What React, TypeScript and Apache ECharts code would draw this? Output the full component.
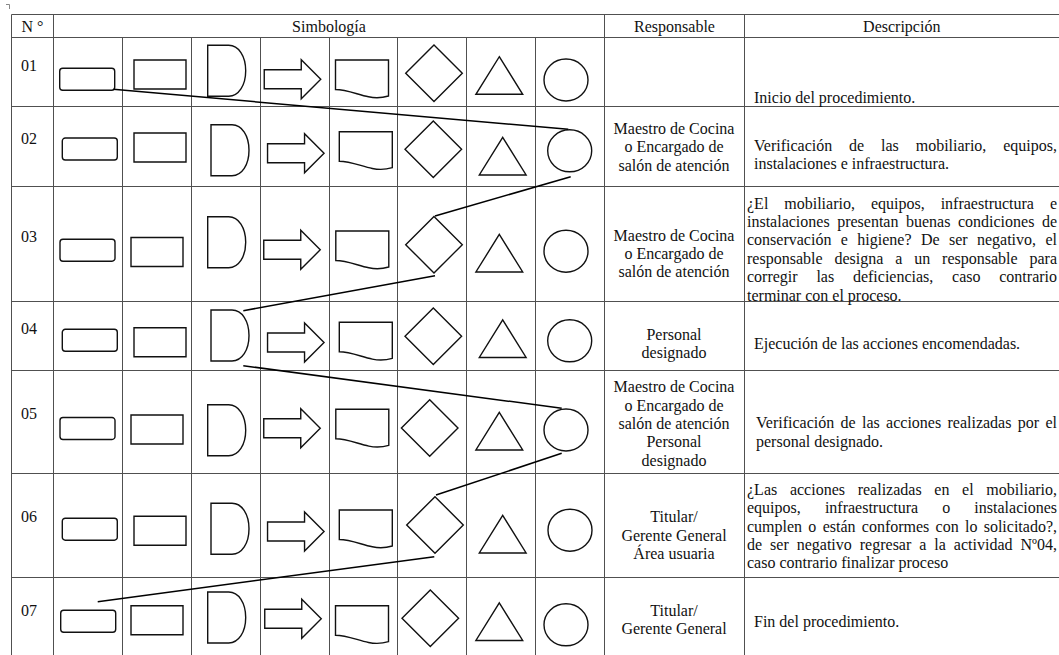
import React, { useEffect, useRef } from "react";
import * as echarts from "echarts";

// ---------- data ----------
const HEADERS = ["N °", "Simbología", "Responsable", "Descripción"];
const STEP_NUMBERS = ["01", "02", "03", "04", "05", "06", "07"];
const SYMBOLS = ["terminal", "process", "delay", "transport", "document", "decision", "inspection", "connector"];
const RESPONSABLES: string[][] = [
  [],
  ["Maestro de Cocina", "o Encargado de", "salón de atención"],
  ["Maestro de Cocina", "o Encargado de", "salón de atención"],
  ["Personal", "designado"],
  ["Maestro de Cocina", "o Encargado de", "salón de atención", "Personal", "designado"],
  ["Titular/", "Gerente General", "Área usuaria"],
  ["Titular/", "Gerente General"],
];
const DESCRIPTIONS: string[][] = [
  ["Inicio del procedimiento."],
  ["Verificación de las mobiliario, equipos,", "instalaciones e infraestructura."],
  [
    "¿El mobiliario, equipos, infraestructura e",
    "instalaciones presentan buenas condiciones de",
    "conservación e higiene? De ser negativo, el",
    "responsable designa a un responsable para",
    "corregir las deficiencias, caso contrario",
    "terminar con el proceso.",
  ],
  ["Ejecución de las acciones encomendadas."],
  ["Verificación de las acciones realizadas por el", "personal designado."],
  [
    "¿Las acciones realizadas en el mobiliario,",
    "equipos, infraestructura o instalaciones",
    "cumplen o están conformes con lo solicitado?,",
    "de ser negativo regresar a la actividad Nº04,",
    "caso contrario finalizar proceso",
  ],
  ["Fin del procedimiento."],
];
// symbol index used at each step of the flow
const FLOW_SYMBOLS = [0, 7, 5, 2, 7, 5, 0];

// ---------- layout ----------
const FONT_FAMILY = "Liberation Serif";
const FONT_SIZE = 16;
const LINE_H = 18.4;
const COL_X = [11.5, 53.5, 122.5, 191.5, 260.5, 329.5, 397.5, 466.5, 535.5, 604.5, 744.5];
const TABLE_RIGHT = 1059;
const ROW_Y = [14.5, 37.5, 106.5, 186.5, 301.5, 370.5, 473.5, 577.5, 700];
const NUM_X = 21;
const NUM_Y = [65.7, 138, 236, 328.3, 413.3, 516.7, 610];
const RESP_X = 674;
const RESP_Y = [0, 128.5, 235, 334.5, 386.7, 516.7, 610];
const DESC_X = [754, 754, 747, 754, 756, 747, 754];
const DESC_RIGHT = 1057;
const DESC_Y = [97, 145, 203, 343, 422.7, 489.3, 621];
// symbol centres per row (drawn by hand in the source document)
const SHAPE_CENTERS: number[][][] = [
  [[87.2, 79.2], [160, 74.5], [226.7, 70.8], [292.5, 79.2], [362, 78], [434, 73.3], [499.3, 75.5], [566, 80]],
  [[89.8, 149], [160, 147.5], [230, 150.3], [295.8, 153.3], [365.8, 149.7], [433.3, 149.3], [502.7, 156.2], [569.7, 150.8]],
  [[87.5, 250.2], [157, 252], [226.7, 242.2], [292, 249.8], [362.3, 249], [434, 244.7], [499.3, 253.2], [566, 251.2]],
  [[89.8, 340.3], [160, 342.2], [230, 335.5], [295.8, 342.5], [365.8, 340.3], [433.3, 336.3], [502.7, 338.7], [569.7, 340.8]],
  [[87.5, 428.5], [157, 429.5], [226.7, 430.3], [292, 428.3], [362.3, 427.3], [429.7, 428], [499.3, 431.2], [566, 430]],
  [[89.8, 529.2], [160, 530.8], [230, 528.8], [295.8, 531.5], [365.8, 528], [435, 525], [502.7, 534.2], [570, 530.2]],
  [[88.2, 621.2], [157, 620.3], [226.7, 617.5], [293, 618.8], [362, 623.7], [430.3, 618.3], [499.3, 621.7], [566, 624.8]],
];
// connector anchors relative to symbol centres: [startDx, startDy, endDx, endDy]
const CONNECTOR_ANCHORS = [
  [26.1, 10.1, -1.4, -21.5],
  [1, 25.9, 1, -28.7],
  [1, 31, 13.3, -24.8],
  [13.3, 30.2, -4.3, -21.7],
  [-4.3, 23.3, 1, -30],
  [-0.7, 31.7, 9.5, -19.5],
];

echarts.graphic.registerShape(
  "fcDelay",
  echarts.graphic.extendPath("M0 0 L21 0 C31 0 38 11 38 25.5 C38 40 31 51 21 51 L0 51 Z", {})
);
echarts.graphic.registerShape(
  "fcArrow",
  echarts.graphic.extendPath("M0 10 L37 10 L37 0 L56.5 19.5 L37 39 L37 29 L0 29 Z", {})
);
echarts.graphic.registerShape(
  "fcDoc",
  echarts.graphic.extendPath("M0 0 L53 0 L53 36 C47 37.8 40 38.3 33 36.8 C22 34.5 11 29.5 0 29.5 Z", {})
);

const SHAPE_STYLE = { fill: "#fff", stroke: "#111", lineWidth: 1.4 };
const GRID_COLOR = "#505050";
const FONT = `${FONT_SIZE}px ${FONT_FAMILY}`;

function textEl(text: string, x: number, y: number, align: string) {
  return {
    type: "text",
    x,
    y,
    silent: true,
    style: {
      text,
      fontSize: FONT_SIZE,
      fontFamily: FONT_FAMILY,
      fill: "#111",
      align,
      textAlign: align,
      verticalAlign: "middle",
      textVerticalAlign: "middle",
    },
  };
}

function symbolEl(kind: number, cx: number, cy: number) {
  switch (SYMBOLS[kind]) {
    case "terminal":
      return { type: "rect", shape: { x: cx - 27.5, y: cy - 11, width: 55, height: 22, r: 3 }, style: SHAPE_STYLE };
    case "process":
      return { type: "rect", shape: { x: cx - 26, y: cy - 14.5, width: 52, height: 29 }, style: SHAPE_STYLE };
    case "delay":
      return { type: "fcDelay", x: cx - 19, y: cy - 25.5, style: SHAPE_STYLE };
    case "transport":
      return { type: "fcArrow", x: cx - 28.25, y: cy - 19.5, style: SHAPE_STYLE };
    case "document":
      return { type: "fcDoc", x: cx - 26.5, y: cy - 18, style: SHAPE_STYLE };
    case "decision":
      return {
        type: "polygon",
        shape: { points: [[cx, cy - 28.3], [cx + 28.3, cy], [cx, cy + 28.3], [cx - 28.3, cy]] },
        style: SHAPE_STYLE,
      };
    case "inspection":
      return {
        type: "polygon",
        shape: { points: [[cx, cy - 18.8], [cx + 23.4, cy + 18.8], [cx - 23.4, cy + 18.8]] },
        style: SHAPE_STYLE,
      };
    default:
      return { type: "ellipse", shape: { cx, cy, rx: 22, ry: 21 }, style: SHAPE_STYLE };
  }
}

function buildElements() {
  const els: any[] = [];
  const ctx = document.createElement("canvas").getContext("2d")!;
  ctx.font = FONT;
  const line = (x1: number, y1: number, x2: number, y2: number, color = GRID_COLOR, w = 1) =>
    els.push({ type: "line", silent: true, shape: { x1, y1, x2, y2 }, style: { stroke: color, lineWidth: w } });

  // corner mark
  els.push({ type: "polyline", shape: { points: [[6, 4.5], [9.5, 4.5], [9.5, 9]] }, style: { stroke: "#888", lineWidth: 1 } });

  // horizontal grid lines
  ROW_Y.slice(0, -1).forEach((y) => line(COL_X[0], y, TABLE_RIGHT, y));
  const bottom = ROW_Y[ROW_Y.length - 1];
  // vertical lines
  [0, 1, 9, 10].forEach((i) => line(COL_X[i], ROW_Y[0], COL_X[i], bottom));
  for (let i = 2; i <= 8; i++) line(COL_X[i], ROW_Y[1], COL_X[i], bottom);

  // headers
  const hy = (ROW_Y[0] + ROW_Y[1]) / 2;
  els.push(textEl(HEADERS[0], (COL_X[0] + COL_X[1]) / 2, hy, "center"));
  els.push(textEl(HEADERS[1], (COL_X[1] + COL_X[9]) / 2, hy, "center"));
  els.push(textEl(HEADERS[2], (COL_X[9] + COL_X[10]) / 2, hy, "center"));
  els.push(textEl(HEADERS[3], (COL_X[10] + TABLE_RIGHT) / 2, hy, "center"));

  STEP_NUMBERS.forEach((num, r) => {
    els.push(textEl(num, NUM_X, NUM_Y[r], "left"));
    // symbols
    SHAPE_CENTERS[r].forEach(([cx, cy], k) => els.push(symbolEl(k, cx, cy)));
    // responsable
    RESPONSABLES[r].forEach((t, i) => els.push(textEl(t, RESP_X, RESP_Y[r] + i * LINE_H, "center")));
    // description (justified except last line)
    const lines = DESCRIPTIONS[r];
    lines.forEach((t, i) => {
      const y = DESC_Y[r] + i * LINE_H;
      const x0 = DESC_X[r];
      if (i === lines.length - 1) {
        els.push(textEl(t, x0, y, "left"));
        return;
      }
      const words = t.split(" ");
      const widths = words.map((w) => ctx.measureText(w).width);
      const total = widths.reduce((a, b) => a + b, 0);
      const gap = (DESC_RIGHT - x0 - total) / (words.length - 1);
      let x = x0;
      words.forEach((w, j) => {
        els.push(textEl(w, x, y, "left"));
        x += widths[j] + gap;
      });
    });
  });

  // flow connectors
  for (let s = 0; s < FLOW_SYMBOLS.length - 1; s++) {
    const [ax, ay] = SHAPE_CENTERS[s][FLOW_SYMBOLS[s]];
    const [bx, by] = SHAPE_CENTERS[s + 1][FLOW_SYMBOLS[s + 1]];
    const [sdx, sdy, edx, edy] = CONNECTOR_ANCHORS[s];
    line(ax + sdx, ay + sdy, bx + edx, by + edy, "#000", 1.5);
  }
  return els;
}

export default function App() {
  const ref = useRef<HTMLDivElement>(null);
  useEffect(() => {
    document.body.style.margin = "0";
    const chart = echarts.init(ref.current!, null, { renderer: "svg" });
    chart.setOption({
      animation: false,
      backgroundColor: "#fff",
      graphic: { elements: buildElements() },
    });
    return () => chart.dispose();
  }, []);
  return <div ref={ref} style={{ position: "absolute", left: 0, top: 0, width: 1059, height: 655 }} />;
}
